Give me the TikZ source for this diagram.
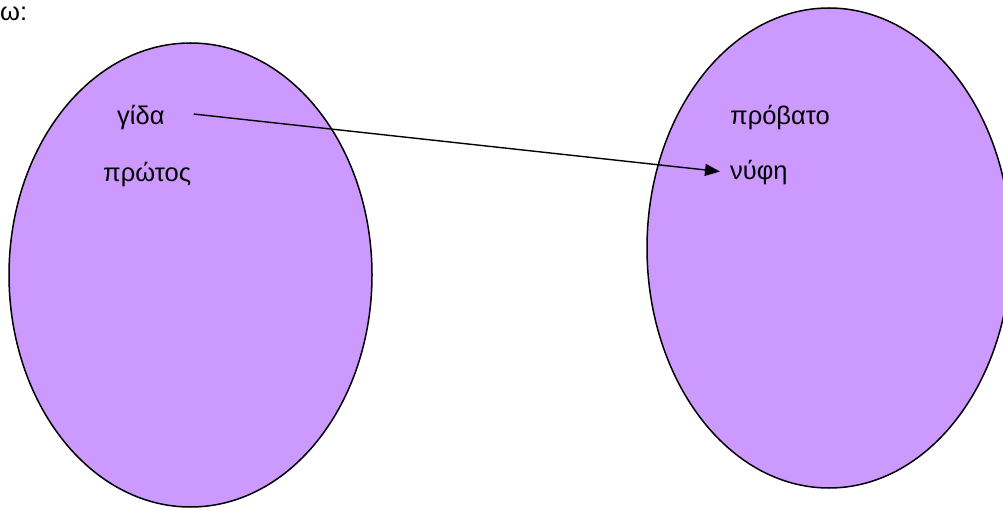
\documentclass[tikz,border=0pt]{standalone}
\usepackage{fontspec}
\setmainfont{Liberation Sans}
\usetikzlibrary{arrows.meta,shapes.geometric}
\definecolor{lilac}{HTML}{CC99FF}
\begin{document}
\begin{tikzpicture}[x=1pt,y=-1pt,
  setshape/.style={ellipse,draw=black,fill=lilac,line width=1.5pt,inner sep=0pt},
  lbl/.style={inner sep=0pt,anchor=base west,font=\fontsize{25.5}{30}\selectfont},
  link/.style={line width=1.4pt,-{Triangle[length=15pt,width=12pt]}}]
\useasboundingbox (0,0) rectangle (1003,510);
\clip (0,0) rectangle (1003,510);
\node[setshape,minimum width=363pt,minimum height=464pt] (left) at (190.5,275) {};
\node[setshape,minimum width=364pt,minimum height=480pt] (right) at (829,248) {};
\node[lbl] (omega) at (0,21) {ω:};
\node[lbl] (gida) at (117,125) {γίδα};
\node[lbl] (protos) at (103,182) {πρώτος};
\node[lbl] (provato) at (730,125) {πρόβατο};
\node[lbl] (nufi) at (730,180) {νύφη};
\draw[link] ([xshift=29pt,yshift=4pt]gida.east) -- ([xshift=-10pt,yshift=1.5pt]nufi.west);
\end{tikzpicture}
\end{document}
